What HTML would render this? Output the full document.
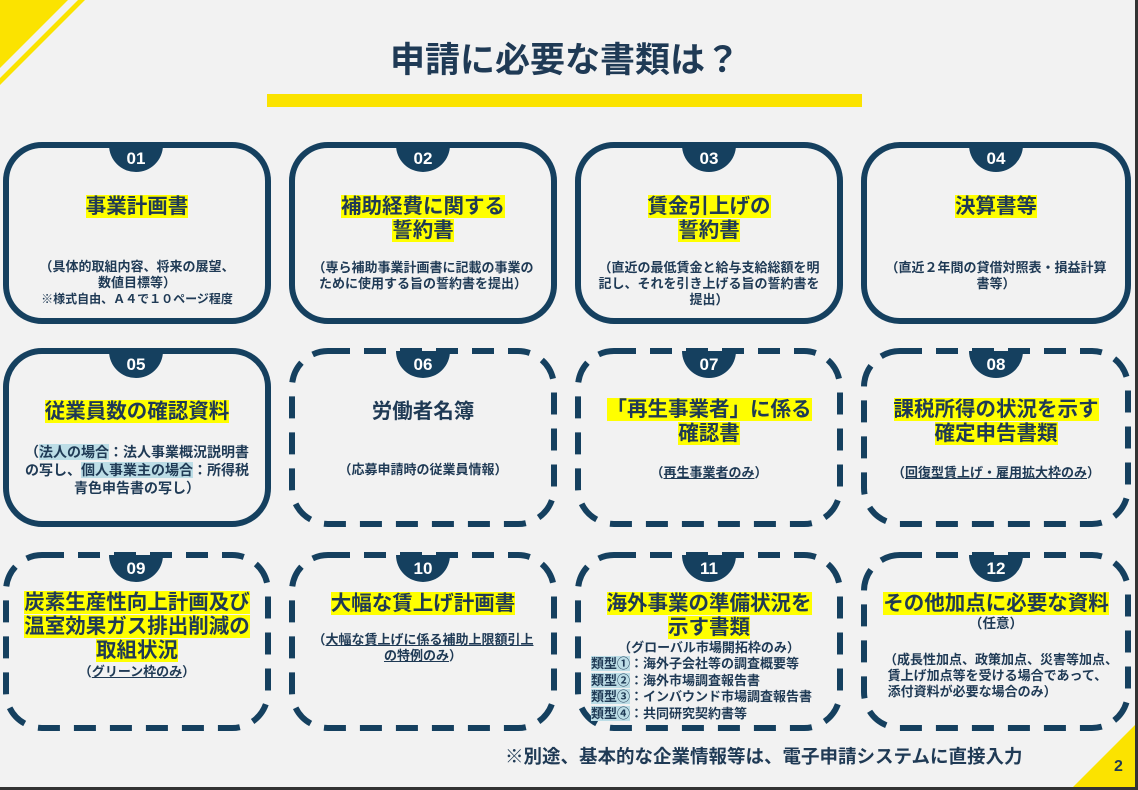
<!DOCTYPE html>
<html><head><meta charset="utf-8"><style>
*{margin:0;padding:0;box-sizing:border-box}
body{width:1138px;height:790px;background:#f2f2f2;position:relative;overflow:hidden;font-family:"Liberation Sans","Noto Sans CJK JP",sans-serif;color:#1f3a55;font-weight:bold}
.t{position:absolute;text-align:center;white-space:nowrap}
.h{font-size:20.5px;line-height:24px}
.h span{background:#ffff00}
.s{font-size:13px;line-height:16px}
.u{text-decoration:underline}
.b{background:#bcdde6}
.n{position:absolute;color:#fff;font-size:17px;text-align:center;width:56px;font-family:"Liberation Sans",sans-serif}
</style></head><body>
<svg width="1138" height="790" style="position:absolute;left:0;top:0">
<polygon points="0,0 68,0 0,68" fill="#fbe300"/>
<polygon points="78,0 85,0 0,85 0,78" fill="#fbe300"/>
<polygon points="1138,722 1138,790 1070,790" fill="#fbe300"/>
<rect x="267" y="94" width="595" height="13" fill="#fbe300"/>
<g fill="none" stroke="#15405f" stroke-width="6">
<rect x="6" y="145" width="262" height="176" rx="36"/>
<rect x="292" y="145" width="262" height="176" rx="36"/>
<rect x="578" y="145" width="262" height="176" rx="36"/>
<rect x="864" y="145" width="264" height="176" rx="36"/>
<rect x="6" y="351" width="262" height="173" rx="36"/>
</g>
<g fill="none" stroke="#15405f" stroke-width="6" stroke-dasharray="22 14">
<rect x="292" y="351" width="262" height="173" rx="36"/>
<rect x="578" y="351" width="262" height="173" rx="36"/>
<rect x="864" y="351" width="264" height="173" rx="36"/>
<rect x="6" y="555" width="262" height="173" rx="36"/>
<rect x="292" y="555" width="262" height="173" rx="36"/>
<rect x="578" y="555" width="262" height="173" rx="36"/>
<rect x="864" y="555" width="264" height="173" rx="36"/>
</g>
<g fill="#15405f">
<path d="M109,145 h54 a27,27 0 0 1 -54,0z"/>
<path d="M396,145 h54 a27,27 0 0 1 -54,0z"/>
<path d="M682,145 h54 a27,27 0 0 1 -54,0z"/>
<path d="M969,145 h54 a27,27 0 0 1 -54,0z"/>
<path d="M109,351 h54 a27,27 0 0 1 -54,0z"/>
<path d="M396,351 h54 a27,27 0 0 1 -54,0z"/>
<path d="M682,351 h54 a27,27 0 0 1 -54,0z"/>
<path d="M969,351 h54 a27,27 0 0 1 -54,0z"/>
<path d="M109,555 h54 a27,27 0 0 1 -54,0z"/>
<path d="M396,555 h54 a27,27 0 0 1 -54,0z"/>
<path d="M682,555 h54 a27,27 0 0 1 -54,0z"/>
<path d="M969,555 h54 a27,27 0 0 1 -54,0z"/>
</g>
<rect x="1135" y="0" width="3" height="790" fill="#333"/>
<rect x="0" y="787" width="1138" height="3" fill="#333"/>
</svg>
<div class="t" style="left:0;width:1130px;top:38px;font-size:35px;line-height:46px">申請に必要な書類は？</div>

<div class="n" style="left:108px;top:149px">01</div>
<div class="n" style="left:395px;top:149px">02</div>
<div class="n" style="left:681px;top:149px">03</div>
<div class="n" style="left:968px;top:149px">04</div>
<div class="n" style="left:108px;top:355px">05</div>
<div class="n" style="left:395px;top:355px">06</div>
<div class="n" style="left:681px;top:355px">07</div>
<div class="n" style="left:968px;top:355px">08</div>
<div class="n" style="left:108px;top:559px">09</div>
<div class="n" style="left:395px;top:559px">10</div>
<div class="n" style="left:681px;top:559px">11</div>
<div class="n" style="left:968px;top:559px">12</div>

<div class="t h" style="left:6px;width:262px;top:195px"><span>事業計画書</span></div>
<div class="t s" style="left:6px;width:262px;top:259px">（具体的取組内容、将来の展望、<br>数値目標等）<br><span style="font-size:12px">※様式自由、Ａ４で１０ページ程度</span></div>

<div class="t h" style="left:292px;width:262px;top:195px"><span>補助経費に関する</span><br><span>誓約書</span></div>
<div class="t s" style="left:292px;width:262px;top:260px">（専ら補助事業計画書に記載の事業の<br>ために使用する旨の誓約書を提出）</div>

<div class="t h" style="left:578px;width:262px;top:195px"><span>賃金引上げの</span><br><span>誓約書</span></div>
<div class="t s" style="left:578px;width:262px;top:260px">（直近の最低賃金と給与支給総額を明<br>記し、それを引き上げる旨の誓約書を<br>提出）</div>

<div class="t h" style="left:864px;width:264px;top:195px"><span>決算書等</span></div>
<div class="t s" style="left:864px;width:264px;top:260px">（直近２年間の貸借対照表・損益計算<br>書等）</div>

<div class="t h" style="left:6px;width:262px;top:400px"><span>従業員数の確認資料</span></div>
<div class="t" style="left:6px;width:262px;top:443px;font-size:14px;line-height:18px">（<span class="b">法人の場合</span>：法人事業概況説明書<br>の写し、<span class="b">個人事業主の場合</span>：所得税<br>青色申告書の写し）</div>

<div class="t h" style="left:292px;width:262px;top:400px"><span style="background:none">労働者名簿</span></div>
<div class="t s" style="left:292px;width:262px;top:462px">（応募申請時の従業員情報）</div>

<div class="t h" style="left:578px;width:262px;top:398px"><span>「再生事業者」に係る</span><br><span>確認書</span></div>
<div class="t s" style="left:578px;width:262px;top:465px">（<span class="u">再生事業者のみ</span>）</div>

<div class="t h" style="left:864px;width:264px;top:398px"><span>課税所得の状況を示す</span><br><span>確定申告書類</span></div>
<div class="t s" style="left:864px;width:264px;top:465px">（<span class="u">回復型賃上げ・雇用拡大枠のみ</span>）</div>

<div class="t h" style="left:6px;width:262px;top:591px"><span>炭素生産性向上計画及び</span><br><span>温室効果ガス排出削減の</span><br><span>取組状況</span></div>
<div class="t s" style="left:6px;width:262px;top:664px">（<span class="u">グリーン枠のみ</span>）</div>

<div class="t h" style="left:292px;width:262px;top:592px"><span>大幅な賃上げ計画書</span></div>
<div class="t s" style="left:292px;width:262px;top:632px">（<span class="u">大幅な賃上げに係る補助上限額引上<br>の特例のみ</span>）</div>

<div class="t h" style="left:578px;width:262px;top:592px"><span>海外事業の準備状況を</span><br><span>示す書類</span></div>
<div class="t s" style="left:578px;width:262px;top:640px">（グローバル市場開拓枠のみ）</div>
<div class="t s" style="left:591px;top:656px;text-align:left;line-height:16.5px"><span class="b">類型①</span>：海外子会社等の調査概要等<br><span class="b">類型②</span>：海外市場調査報告書<br><span class="b">類型③</span>：インバウンド市場調査報告書<br><span class="b">類型④</span>：共同研究契約書等</div>

<div class="t h" style="left:864px;width:264px;top:592px"><span>その他加点に必要な資料</span></div>
<div class="t s" style="left:864px;width:264px;top:616px;font-size:13.5px">（任意）</div>
<div class="t s" style="left:864px;width:264px;top:652px;text-align:left;padding-left:20px">（成長性加点、政策加点、災害等加点、<br>&nbsp;賃上げ加点等を受ける場合であって、<br>&nbsp;添付資料が必要な場合のみ）</div>

<div class="t" style="left:505px;top:745px;font-size:18.5px;line-height:24px">※別途、基本的な企業情報等は、電子申請システムに直接入力</div>
<div class="t" style="left:1114px;top:757px;font-size:16px;line-height:20px">2</div>
</body></html>
